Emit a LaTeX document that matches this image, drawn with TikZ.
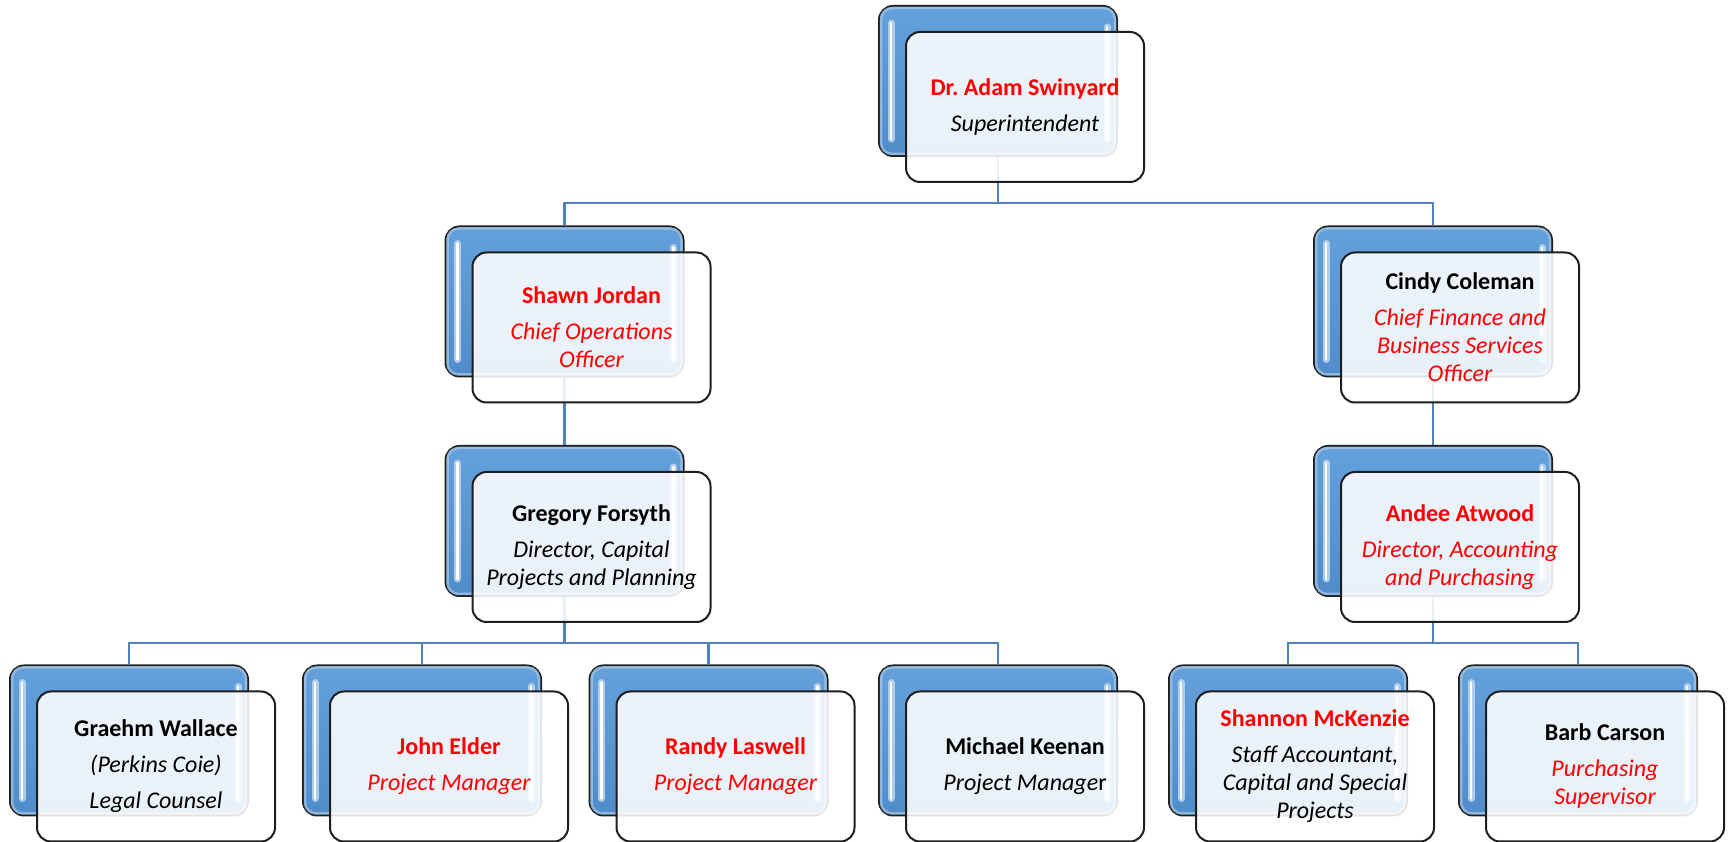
\documentclass[tikz,border=0pt]{standalone}
\usepackage{fontspec}
\setmainfont{Carlito}
\usepackage{xcolor}
\usepackage{tikz}

\definecolor{boxtop}{RGB}{100,160,218}
\definecolor{boxbot}{RGB}{80,140,202}
\definecolor{linkblue}{RGB}{79,129,189}
\definecolor{edge}{RGB}{30,30,30}

\newcommand{\who}[2]{{\bfseries\color{#1}#2}}
\newcommand{\job}[2]{{\itshape\color{#1}#2}}

\tikzset{
  back/.style={rectangle, rounded corners=14pt, minimum width=238pt,
    minimum height=150pt, inner sep=0pt, draw=edge, line width=2pt,
    top color=boxtop, bottom color=boxbot},
  front/.style={rectangle, rounded corners=14pt, minimum width=238pt,
    minimum height=150pt, inner sep=2pt, draw=edge, line width=2pt,
    fill=white, fill opacity=0.88, text opacity=1, align=center,
    font=\fontsize{24}{28}\selectfont},
  rim/.style={white!45!boxtop, line width=2.5pt, rounded corners=11pt, opacity=0.7},
  glow/.style={white!55!boxtop, line width=7pt, line cap=round, opacity=0.9},
  glint/.style={white, line width=2.5pt, line cap=round},
  conn/.style={linkblue, line width=2.5pt}
}

\begin{document}
\frenchspacing
\begin{tikzpicture}[x=1pt,y=1pt]
		\useasboundingbox (0,0) rectangle (1729,842);
		% 绘制背景框
		\node[back] (adamB) at (998,761) {};
		\node[back] (shawnB) at (564.5,540.5) {};
		\node[back] (cindyB) at (1433,540.5) {};
		\node[back] (gregB) at (564.5,321) {};
		\node[back] (andeeB) at (1433,321) {};
		\node[back] (graehmB) at (129,101.5) {};
		\node[back] (johnB) at (422,101.5) {};
		\node[back] (randyB) at (708.5,101.5) {};
		\node[back] (michaelB) at (998,101.5) {};
		\node[back] (shannonB) at (1288,101.5) {};
		\node[back] (barbB) at (1578,101.5) {};
		% 绘制高光
		\foreach \b in {adamB,shawnB,cindyB,gregB,andeeB,graehmB,johnB,randyB,michaelB,shannonB,barbB}{
			\draw[rim] ([shift={(3,-3)}]\b.north west) rectangle ([shift={(-3,3)}]\b.south east);
			\draw[glow] ([shift={(13,-18)}]\b.north west) -- ([shift={(13,18)}]\b.south west);
			\draw[glint] ([shift={(13,-18)}]\b.north west) -- ([shift={(13,18)}]\b.south west);
			\draw[glow] ([shift={(-11,-22)}]\b.north east) -- ([shift={(-11,18)}]\b.south east);
			\draw[glint] ([shift={(-11,-22)}]\b.north east) -- ([shift={(-11,18)}]\b.south east);
		}
		% 绘制连线
		\draw[conn] (adamB.south) -- ++(0,-46) coordinate (bus1);
		\draw[conn] (bus1) -| (shawnB.north);
		\draw[conn] (bus1) -| (cindyB.north);
		\draw[conn] (shawnB.south) -- (gregB.north);
		\draw[conn] (cindyB.south) -- (andeeB.north);
		\draw[conn] (gregB.south) -- ++(0,-46) coordinate (bus3);
		\foreach \k in {graehmB,johnB,randyB,michaelB}
			\draw[conn] (bus3) -| (\k.north);
		\draw[conn] (andeeB.south) -- ++(0,-46) coordinate (bus4);
		\foreach \k in {shannonB,barbB}
			\draw[conn] (bus4) -| (\k.north);
		% 绘制前景框
		\node[front] (adam) at ([shift={(27,-26)}]adamB.center)
			{\who{red}{Dr. Adam Swinyard}\\[8pt]\job{black}{Superintendent}};
		\node[front] (shawn) at ([shift={(27,-26)}]shawnB.center)
			{\who{red}{Shawn Jordan}\\[8pt]\job{red}{Chief Operations}\\\job{red}{Officer}};
		\node[front] (cindy) at ([shift={(27,-26)}]cindyB.center)
			{\who{black}{Cindy Coleman}\\[8pt]\job{red}{Chief Finance and}\\\job{red}{Business Services}\\\job{red}{Officer}};
		\node[front] (greg) at ([shift={(27,-26)}]gregB.center)
			{\who{black}{Gregory Forsyth}\\[8pt]\job{black}{Director, Capital}\\\job{black}{Projects and Planning}};
		\node[front] (andee) at ([shift={(27,-26)}]andeeB.center)
			{\who{red}{Andee Atwood}\\[8pt]\job{red}{Director, Accounting}\\\job{red}{and Purchasing}};
		\node[front] (graehm) at ([shift={(27,-26)}]graehmB.center)
			{\who{black}{Graehm Wallace}\\[8pt]\job{black}{(Perkins Coie)}\\[8pt]\job{black}{Legal Counsel}};
		\node[front] (john) at ([shift={(27,-26)}]johnB.center)
			{\who{red}{John Elder}\\[8pt]\job{red}{Project Manager}};
		\node[front] (randy) at ([shift={(27,-26)}]randyB.center)
			{\who{red}{Randy Laswell}\\[8pt]\job{red}{Project Manager}};
		\node[front] (michael) at ([shift={(27,-26)}]michaelB.center)
			{\who{black}{Michael Keenan}\\[8pt]\job{black}{Project Manage}r};
		\node[front] (shannon) at ([shift={(27,-26)}]shannonB.center)
			{\who{red}{Shannon McKenzie}\\[8pt]\job{black}{Staff Accountant,}\\\job{black}{Capital and Special}\\\job{black}{Projects}};
		\node[front] (barb) at ([shift={(27,-26)}]barbB.center)
			{\who{black}{Barb Carson}\\[8pt]\job{red}{Purchasing}\\\job{red}{Supervisor}};
	\end{tikzpicture}
\end{document}
